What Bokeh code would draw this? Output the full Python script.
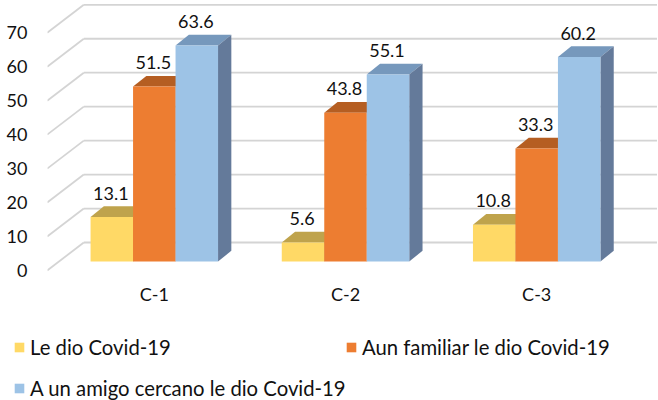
from bokeh.plotting import figure
from bokeh.layouts import column
from bokeh.models import (Range1d, LinearAxis, FixedTicker, Legend, LegendItem, ColumnDataSource)
from bokeh.core.properties import value
from bokeh.embed import file_html
from bokeh.resources import INLINE

categories = ["C-1", "C-2", "C-3"]
le_dio = [13.1, 5.6, 10.8]
familiar = [51.5, 43.8, 33.3]
amigo = [63.6, 55.1, 60.2]
series_names = ["Le dio Covid-19", "Aun familiar le dio Covid-19", "A un amigo cercano le dio Covid-19"]
wall_ticks = [0, 10, 20, 30, 40, 50, 60, 70]

front = ["#FFD966", "#ED7D31", "#9DC3E6"]
top_c = ["#BFA34C", "#B55E22", "#7698BC"]
side_c = ["#BFA34C", "#B55E22", "#647A9A"]
GRID = "#D4D4D4"
FONT = "Lato"
FS = "18px"

OFF_X, OFF_Y = 0, 0   # where the figure's corner lands in the picture
W, H, H_LEG = 657, 320, 80
LEFT, RIGHT, FRAME_BOTTOM = 47 - OFF_X, 657 - OFF_X, 272 - OFF_Y
X0_PX, X_UNIT = 153.8 - OFF_X, 191.2     # centre of first group, pixels per category
BASE_PX, Y_UNIT = 261.0 - OFF_Y, 3.396   # bar baseline, pixels per value unit
WALL0_PX = 270.0 - OFF_Y

x_start = (LEFT - X0_PX) / X_UNIT
x_end = (RIGHT - X0_PX) / X_UNIT
y_start = (BASE_PX - FRAME_BOTTOM) / Y_UNIT
y_end = BASE_PX / Y_UNIT

p = figure(width=W, height=H, output_backend="svg", toolbar_location=None,
           x_range=Range1d(x_start, x_end), y_range=Range1d(y_start, y_end),
           min_border_left=LEFT, min_border_right=W - RIGHT, min_border_top=0,
           min_border_bottom=H - FRAME_BOTTOM, frame_align=False,
           outline_line_color=None, x_axis_location="below", y_axis_location=None)
p.grid.visible = False
p.background_fill_alpha = 0

# y axis on the front edge of the left wall
p.extra_y_ranges["wall"] = Range1d((WALL0_PX - FRAME_BOTTOM) / Y_UNIT, WALL0_PX / Y_UNIT)
ya = LinearAxis(y_range_name="wall", ticker=FixedTicker(ticks=wall_ticks))
ya.axis_line_color = None
ya.major_tick_line_color = None
ya.minor_tick_line_color = None
ya.major_tick_out = 0
ya.major_label_standoff = 20
ya.major_label_text_font = FONT
ya.major_label_text_font_size = FS
ya.major_label_text_color = "#111111"
p.add_layout(ya, "left")

xa = p.xaxis[0]
xa.ticker = FixedTicker(ticks=list(range(len(categories))))
xa.major_label_overrides = {i: c for i, c in enumerate(categories)}
xa.axis_line_color = None
xa.major_tick_line_color = None
xa.minor_tick_line_color = None
xa.major_tick_out = 0
xa.major_label_standoff = 10
xa.major_label_text_font = FONT
xa.major_label_text_font_size = FS
xa.major_label_text_color = "#111111"

# walls: back gridlines and diagonals, all from the tick values
wall_dx = 36.6 / X_UNIT
wall_dy = 28.0 / Y_UNIT
wall_x0 = (46.7 - OFF_X - X0_PX) / X_UNIT
wall_front_offset = (BASE_PX - WALL0_PX) / Y_UNIT
gx, gy, dx_, dy_ = [], [], [], []
for t in wall_ticks:
    yf = t + wall_front_offset
    yb = yf + wall_dy
    gx.append([wall_x0 + wall_dx, x_end])
    gy.append([yb, yb])
    dx_.append([wall_x0, wall_x0 + wall_dx])
    dy_.append([yf, yb])
p.multi_line(gx, gy, line_color=GRID, line_width=1.8)
p.multi_line(dx_, dy_, line_color=GRID, line_width=1.8)

# 3-D columns
bw = 1 / 4.5
bar_dx = 13.3 / X_UNIT
bar_dy = 10.7 / Y_UNIT
all_series = [le_dio, familiar, amigo]
for s, vals in enumerate(all_series):
    xs_center = [i + (s - 1) * bw for i in range(len(vals))]
    for xc, v in zip(xs_center, vals):
        x0, x1 = xc - bw / 2, xc + bw / 2
        p.patch([x0, x1, x1 + bar_dx, x0 + bar_dx], [v, v, v + bar_dy, v + bar_dy],
                fill_color=top_c[s], line_color=None)
        p.patch([x1, x1 + bar_dx, x1 + bar_dx, x1], [0, bar_dy, v + bar_dy, v],
                fill_color=side_c[s], line_color=None)
    src = ColumnDataSource(dict(x=xs_center, top=vals))
    p.vbar(x="x", top="top", bottom=0, width=bw, source=src, fill_color=front[s], line_color=None)

# value labels on top of everything
for s, vals in enumerate(all_series):
    p.text([i + (s - 1) * bw for i in range(len(vals))], vals, text=[str(v) for v in vals],
           text_align="center", text_baseline="middle", y_offset=-24, x_offset=-1,
           text_font=value(FONT), text_font_size=FS, text_color="#111111")

# legend lives in its own strip below the chart; its bars lie outside that strip's range
q = figure(width=W, height=H_LEG, output_backend="svg", toolbar_location=None,
           x_range=Range1d(0, 1), y_range=Range1d(1000, 1001),
           min_border_left=0, min_border_right=0, min_border_top=0, min_border_bottom=0,
           frame_align=False,
           outline_line_color=None, x_axis_location=None, y_axis_location=None)
q.grid.visible = False
renderers = [q.vbar(x=list(range(len(vals))), top=vals, bottom=0, width=bw,
                    fill_color=front[s], line_color=None) for s, vals in enumerate(all_series)]
leg_style = dict(border_line_color=None, background_fill_alpha=0, margin=0, padding=0,
                 glyph_width=12, glyph_height=12, label_standoff=5,
                 label_text_font=FONT, label_text_font_size="20.3px", label_text_color="#111111")
leg_a = Legend(items=[LegendItem(label=series_names[0], renderers=[renderers[0]]),
                      LegendItem(label=series_names[2], renderers=[renderers[2]])],
               location=(13 - OFF_X, 0), spacing=17, **leg_style)
leg_b = Legend(items=[LegendItem(label=series_names[1], renderers=[renderers[1]])],
               location=(345 - OFF_X, 41), **leg_style)
q.add_layout(leg_a)
q.add_layout(leg_b)

open("out.html", "w").write(file_html(column(p, q, spacing=0), INLINE))
